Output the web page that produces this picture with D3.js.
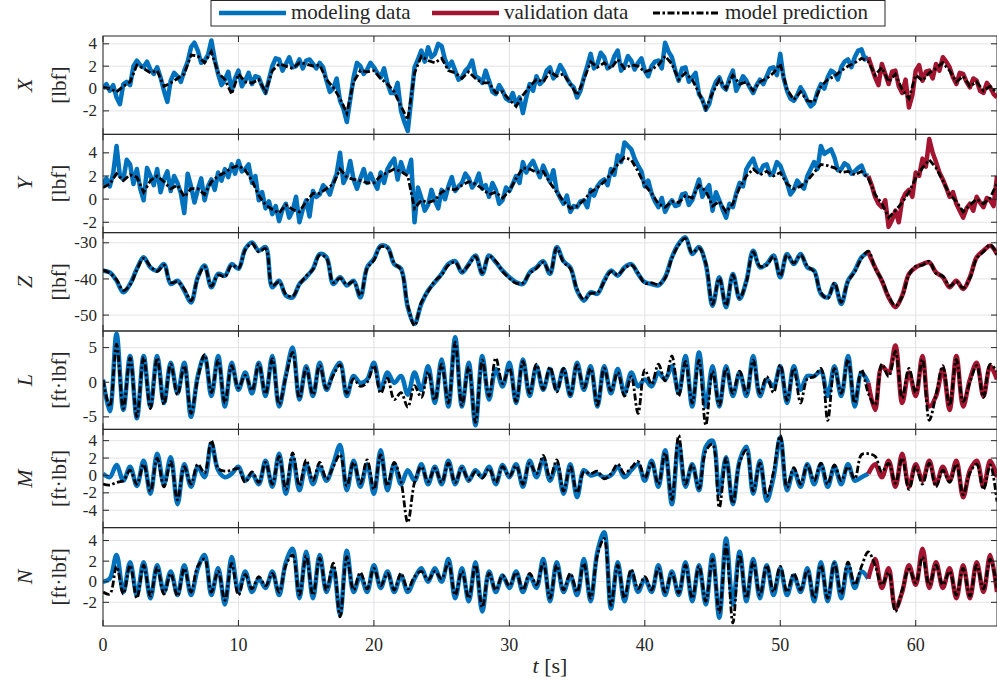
<html>
<script src='https://d3js.org/d3.v7.min.js'></script>
<style>
body {margin: 0; background: #fff;}
</style>
<body>
<svg id="chart" width=997 height=692></svg>
<script>
// every series spans 0..66 s at an even step; modeling data up to 56.5 s, validation after
const endTime = 66;
const splitTime = 56.5;
const timeTicks = [0, 10, 20, 30, 40, 50, 60];

// X and Y measurements are read every 0.25 s, the rest every 0.5 s
const xData = [0, 0.4, -0.2, 0.3, -0.8, -1.4, 0.4, 0.6, 0.3, 2.0, 2.5, 2.1, 1.9, 2.4, 1.7, 1.3, 1.9, 1.0, -0.2, -1.2,
  0.7, 1.4, 1.1, 0.6, 1.6, 2.4, 3.7, 4.1, 3.4, 2.3, 2.5, 3.0, 4.3, 2.6, 1.3, 0.3, 0.8, 1.5, -0.2, 0.9,
  1.6, 0.2, 0.7, 1.4, 0.4, 1.1, 1.0, 0.2, -0.4, 0.8, 2.0, 2.7, 2.6, 1.6, 2.2, 2.8, 1.9, 2.0, 2.6, 1.8,
  2.5, 2.6, 2.2, 1.8, 2.3, 1.9, 0.7, -0.3, 0, 0.9, -1.1, -1.8, -3.0, -1.0, 1.0, 2.3, 2.0, 1.3, 1.7, 2.3,
  1.9, 1.4, 1.0, 1.8, 0.5, -0.4, -0.4, 0.5, -2.0, -3.0, -3.8, -1.0, 1.9, 2.6, 3.4, 2.4, 3.7, 2.8, 3.1, 4.0,
  3.8, 2.6, 1.9, 2.4, 1.6, 0.8, 1.0, 1.6, 1.9, 2.5, 1.1, 0.9, 0.5, 1.6, 0.7, -0.3, -0.5, 0.3, -0.2, -0.9,
  -1.1, -0.4, -1.4, -0.8, -2.2, -0.8, 0.4, -0.2, 1.1, 0.4, 0.7, 1.6, 1.9, 0.9, 1.3, 2.1, 1.6, 0.9, 0.4, 0.1,
  -0.8, -0.2, 1.0, 2.0, 3.1, 1.8, 2.2, 3.2, 2.8, 1.8, 2.0, 2.9, 3.4, 1.6, 2.0, 2.9, 2.5, 1.7, 2.3, 2.7,
  1.6, 1.1, 2.0, 2.4, 2.5, 1.8, 4.1, 3.3, 2.8, 1.6, 0.7, 1.8, 1.9, 0.6, 1.0, 1.4, -0.5, -1.0, -1.9, -1.4,
  -0.2, 0.6, 1.0, 0.2, -0.1, 0.9, 1.6, -0.2, 0.4, 1.1, 0.7, 0.1, -0.4, 0.3, 0.8, 0.4, 1.1, 1.8, 1.9, 1.2,
  3.1, 0.9, -0.2, -0.9, -1.1, -0.6, 0.1, -0.4, -1.1, -1.6, -1.3, -0.3, 0.4, 0.0, 1.0, 1.6, 1.4, 0.8, 1.9, 2.4,
  2.6, 1.9, 2.8, 3.4, 3.5, 2.6, 2.8,
  1.9, 1.0, 0.3, 2.2, 1.3, 0.4, 1.5, 1.6, 0.2, -0.4, 0.8, -1.7, -0.6, 1.6, 2.1, 0.7, 1.5, 1.6, 0.9, 2.2,
  1.6, 2.8, 2.4, 1.9, 1.0, 0.4, 1.4, 1.3, 0.6, 0.1, 0.9, 0.7, -0.2, -0.4, 0.5, 0.1, -0.5, -0.8];
const xPred = [0.1, 0.0, -0.3, 0.2, 0.6, 2.1, 1.8, 1.4, 1.6, 0.2,
  0.5, 0.9, 1.3, 3.0, 2.9, 2.3, 3.3, 1.4, 0.8, -0.5,
  1.3, 0.6, 0.5, 0.8, -0.3, 1.6, 2.2, 2.0, 1.8, 2.3,
  2.2, 2.0, 2.1, 0.8, 0.1, -0.9, -2.2, 0.6, 1.6, 1.5,
  1.6, 0.9, 0.4, -0.3, -1.6, -2.8, 1.4, 2.9, 2.5, 2.3,
  2.7, 1.6, 1.4, 0.9, 1.5, 0.9, 0.5, 0.5, -0.4, -0.3,
  -1.0, -1.6, -0.6, 0.2, 0.8, 0.6, 1.5, 1.1, 1.3, 0.4,
  -0.6, 0.8, 2.4, 1.9, 2.3, 1.8, 2.6, 1.8, 2.1, 2.0,
  1.5, 1.7, 2.1, 2.9, 2.2, 0.8, 1.4, 0.8, -0.4, -1.8,
  -0.4, 0.8, 0.0, 1.2, 0.4, 0.6, -0.2, 0.6, 0.9, 1.4,
  2.2, -0.1, -1.0, -0.3, -1.1, -1.2, 0.2, 0.8, 1.1, 1.6,
  2.0, 2.3, 2.7, 2.4,
  1.2, 1.9, 0.6, 1.3, -0.1, -0.9, 1.2, 0.7, 1.4, 1.8,
  2.3, 1.6, 0.6, 1.1, 0.2, 0.6, -0.2, 0.2, -0.4];

const yData = [1.2, 1.8, 1.1, 2.2, 4.6, 2.0, 1.7, 3.4, 3.0, 1.3, 2.6, 0.9, -0.1, 2.7, 2.0, 1.2, 2.6, 0.6, 1.7, 2.4,
  0.7, 2.0, 1.4, 0.5, -1.2, 2.2, 1.1, -0.3, 0.8, 1.8, -0.1, 1.1, 1.7, 0.8, 2.3, 1.6, 2.6, 1.9, 3.0, 2.2,
  3.3, 2.4, 2.6, 3.0, 1.4, 2.0, -0.1, 0.6, -0.8, -0.2, -1.3, -0.6, -1.9, -0.9, -0.4, -1.6, -1.0, 0.2, -2.0, -0.9,
  -0.1, -1.5, 0.7, 0.2, 0.4, 1.2, 0.9, 0.4, 1.4, 2.2, 4.0, 1.4, 2.0, 3.3, 1.7, 0.9, 1.8, 2.6, 1.4, 2.2,
  1.5, 0.9, 2.3, 1.4, 2.6, 3.1, 3.5, 1.7, 3.2, 2.3, 2.3, 3.4, -2.0, 1.0, 0.1, -1.0, -0.5, 0.8, -0.1, -0.8,
  0.8, 0.0, 1.1, 1.9, 0.7, 1.1, 1.4, 2.2, 1.8, 1.0, 1.4, 2.2, 0.9, 1.2, 0.2, 1.4, 0.8, -0.4, -0.1, 1.0,
  0.7, 1.3, 2.0, 1.4, 3.2, 2.3, 2.9, 3.3, 2.6, 1.9, 2.9, 2.2, 1.5, 2.5, 0.7, 0.1, -0.4, 0.3, -1.1, -0.6,
  -0.7, -0.2, -0.1, -0.7, 0.8, 0.3, 1.1, 1.5, 1.7, 1.2, 2.6, 2.1, 3.8, 3.2, 4.9, 4.6, 4.3, 3.5, 2.9, 2.4,
  1.1, 1.6, 0.5, -0.2, -0.7, 0.1, -1.1, -0.5, -0.1, -0.6, -0.5, 0.4, 0.5, -0.5, -0.1, 0.8, 1.7, 0.2, 0.8, 1.2,
  -1.0, 0.6, -0.1, -0.9, -1.6, -0.4, -0.7, 0.5, 1.4, 1.1, 2.6, 3.1, 3.5, 2.6, 2.3, 2.9, 3.0, 2.1, 2.3, 3.2,
  2.9, 2.1, 1.4, 0.4, 0.8, 1.6, 1.2, 0.9, 2.0, 2.6, 3.2, 2.6, 4.6, 3.9, 4.1, 4.3, 3.6, 2.5, 2.6, 3.1,
  2.9, 2.2, 2.4, 2.7, 2.9, 2.1, 2.0,
  1.2, 0.2, -0.4, -0.7, -0.1, -2.4, -1.8, -1.0, -2.0, -0.1, 0.5, 0.8, 0.2, 2.3, 2.0, 3.5, 2.8, 5.2, 4.0, 3.2,
  2.3, 1.7, 1.0, 0.2, 0.6, -0.4, -1.0, -1.6, -0.8, -0.4, -1.0, 0.2, -0.3, -0.7, 0.1, -0.1, -0.6, 2.0];
const yPred = [1.0, 1.3, 2.2, 1.6, 2.1, 1.9, 0.6, 1.6, 2.0, 1.5,
  0.9, 1.2, 0.2, 0.9, 0.9, 0.4, 1.5, 2.0, 2.3, 2.7,
  2.9, 2.5, 1.6, 0.3, -0.5, -0.9, -1.2, -0.5, -0.9, -1.1,
  -0.2, 0.5, 0.5, 0.9, 1.3, 2.6, 1.9, 1.7, 1.6, 1.4,
  1.4, 2.0, 2.3, 2.6, 2.4, 2.0, -0.8, -0.1, -0.3, -0.1,
  0.6, 0.9, 0.8, 1.2, 1.5, 1.3, 0.9, 0.4, 0.6, 0.1,
  0.7, 1.8, 2.7, 2.6, 2.3, 2.4, 1.4, 0.6, -0.2, -0.8,
  -0.6, -0.1, 0.6, 1.0, 1.5, 2.2, 3.0, 3.6, 3.4, 2.4,
  1.2, 0.5, -0.4, -0.7, -0.2, -0.3, 0.3, 0.1, 1.2, 0.7,
  -0.6, -0.2, -1.1, -0.4, 1.0, 2.0, 2.6, 2.1, 2.4, 2.0,
  2.3, 1.3, 0.9, 1.1, 1.6, 2.3, 3.0, 2.9, 2.7, 2.3,
  2.4, 2.1, 2.4, 1.8,
  0.4, -0.4, -1.6, -1.0, -0.3, 0.6, 1.8, 2.7, 3.4, 2.7,
  1.6, 0.4, -0.2, -1.1, -0.5, 0.0, -0.4, 0.1, 1.4];

const zData = [-37.7, -38.2, -40.5, -43.7, -41.4, -37.2, -34.0, -36.8, -37.7, -35.9,
  -41.4, -40.5, -43.2, -46.5, -39.5, -36.3, -42.3, -38.6, -39.1, -35.9,
  -37.2, -31.7, -29.9, -32.2, -31.2, -42.3, -40.5, -44.6, -45.1, -41.4,
  -39.5, -37.2, -33.1, -34.0, -41.4, -39.5, -41.8, -40.5, -45.1, -36.8,
  -34.5, -30.8, -31.2, -35.9, -37.2, -47.8, -52.4, -46.9, -43.2, -40.9,
  -38.6, -35.9, -35.1, -38.2, -35.9, -33.5, -38.6, -33.5, -35.4, -37.7,
  -39.5, -40.9, -41.4, -38.2, -36.8, -35.1, -38.6, -31.2, -35.1, -36.8,
  -43.2, -46.0, -43.7, -44.1, -40.5, -37.7, -39.1, -36.8, -35.9, -38.6,
  -40.9, -41.4, -41.8, -39.5, -34.0, -30.3, -28.5, -33.1, -31.2, -35.9,
  -47.4, -39.5, -47.8, -38.6, -45.5, -40.5, -32.2, -36.8, -35.9, -33.5,
  -39.5, -33.1, -35.9, -33.1, -36.8, -37.7, -44.1, -45.1, -41.4, -46.9,
  -40.5, -37.7, -34.0, -32.6,
  -36.8, -40.5, -45.1, -47.8, -44.6, -38.6, -36.8, -35.9, -35.4, -38.2,
  -39.5, -42.3, -40.5, -42.8, -39.5, -34.0, -32.2, -30.8, -33.1];
const zPred = [-37.5, -38.4, -40.2, -43.2, -41.6, -37.5, -34.3, -36.5, -37.9, -36.2,
  -41.0, -40.8, -42.8, -46.0, -39.8, -36.6, -42.0, -38.9, -39.4, -36.2,
  -37.0, -32.0, -30.2, -32.5, -31.6, -41.8, -40.8, -44.2, -44.8, -41.6,
  -39.2, -37.4, -33.4, -34.3, -41.0, -39.8, -41.5, -40.8, -44.6, -37.1,
  -34.8, -31.1, -31.5, -35.6, -37.5, -47.3, -52.9, -46.5, -43.5, -40.6,
  -38.9, -36.2, -35.4, -37.9, -36.2, -33.8, -38.3, -33.8, -35.1, -37.9,
  -39.8, -41.2, -41.1, -38.5, -37.1, -35.4, -38.3, -31.5, -35.4, -37.1,
  -42.8, -45.6, -44.0, -43.8, -40.8, -38.0, -38.8, -37.1, -36.2, -38.3,
  -41.2, -41.1, -41.5, -39.8, -34.3, -30.6, -28.8, -32.8, -31.5, -35.6,
  -47.0, -39.8, -47.4, -38.9, -45.2, -40.8, -32.5, -36.5, -36.2, -33.8,
  -39.2, -33.4, -35.6, -33.4, -36.5, -38.0, -43.8, -45.4, -41.1, -46.5,
  -40.8, -38.0, -34.3, -32.3,
  -37.1, -40.2, -44.8, -47.4, -44.9, -38.9, -36.5, -36.2, -35.1, -38.5,
  -39.2, -42.0, -40.8, -42.5, -39.8, -34.3, -32.5, -30.5, -33.4];

const lData = [0.4, -4.2, 7.0, -4.0, 3.8, -5.2, 3.8, -3.5, 3.8, -3.0,
  2.8, -1.6, 2.8, -5.0, 0.9, 3.8, -2.0, 3.8, -3.5, 2.8,
  -1.1, 1.4, -1.6, 2.8, -2.0, 3.8, -3.5, 1.0, 5.0, -2.5,
  2.3, -2.0, 2.8, -1.1, 1.4, 2.8, -2.0, 0.9, -0.1, 0.4,
  2.8, -1.1, 1.4, -0.1, 0.9, -1.8, 1.4, -1.1, 2.3, -3.0,
  3.3, -3.5, 6.5, -3.5, 2.8, -6.2, 3.8, -2.5, 1.9, -0.6,
  2.8, -3.0, 3.3, -2.0, 2.3, -1.1, 1.9, -1.1, 1.9, -2.0,
  2.8, -1.1, 2.3, -3.5, 2.3, -1.6, 1.9, -1.6, 1.4, -0.6,
  0.4, -0.6, 1.4, 0.4, 2.3, -1.6, 3.8, -3.5, 4.3, -3.5,
  2.3, -3.5, 2.3, -2.0, 1.4, -2.0, 3.8, -2.0, 0.4, -0.6,
  2.3, -3.0, 2.3, -1.1, 0.9, 0.9, 1.6, -2.0, 2.3, -2.0,
  3.8, -3.5, 1.4, -0.1,
  -4.0, 2.3, 1.4, 5.3, -3.0, 1.4, -2.0, 3.8, -3.5, -2.0,
  1.9, -4.0, 3.8, -3.5, 0.4, 2.8, -2.0, 2.3, 0.4];
const lPred = [0.3, -3.5, 5.5, -3.8, 3.5, -5.0, 3.6, -3.8, 3.5, -3.2,
  2.6, -1.8, 2.4, -4.5, 0.6, 4.0, -1.5, 3.2, -3.0, 2.4,
  -0.8, 1.0, -1.2, 2.6, -1.7, 3.4, -3.2, 0.8, 4.3, -2.3,
  2.0, -1.8, 2.4, -0.9, 1.0, 2.5, -1.6, 0.5, -0.6, 0.0,
  2.4, -1.6, 0.6, -2.5, -1.5, -3.6, -0.5, -2.2, 1.5, -2.6,
  2.6, -3.0, 5.8, -3.3, 2.2, -5.8, 3.2, -2.0, 3.5, -0.2,
  2.0, -2.8, 3.0, -1.6, 2.6, -1.0, 2.2, -1.4, 2.0, -1.8,
  2.5, -0.8, 2.0, -3.3, 2.0, -1.2, 1.4, -2.0, 0.8, -4.5,
  1.8, -0.3, 2.6, 0.2, 3.8, -2.0, 3.0, -3.0, 3.2, -6.2,
  1.6, -3.3, 2.0, -1.6, 1.6, -1.6, 3.2, -1.6, 0.8, -1.5,
  2.5, -2.6, 2.0, -3.0, 0.5, 0.8, 2.0, -5.5, 2.0, -1.6,
  3.3, -3.0, 1.8, -1.6,
  -3.3, 2.6, 0.8, 4.5, -2.3, 2.0, -1.5, 3.3, -5.5, -1.8,
  2.4, -3.4, 3.3, -2.8, 0.0, 2.4, -2.2, 2.6, 1.5];

const mData = [0.2, -0.2, 1.2, -0.6, 1.0, -1.2, 1.7, -2.1, 2.5, -1.0,
  2.1, -3.3, 1.3, -1.3, 1.0, -0.2, 3.7, 0.6, -0.2, 0.2,
  1.0, -0.6, 0.2, -1.0, 1.7, -1.3, 2.5, -2.1, 2.1, -1.7,
  1.3, -1.0, 1.0, -0.6, 1.3, 3.5, -1.7, 1.7, -1.3, 1.3,
  -2.1, 2.9, -1.7, 1.3, -1.0, 0.6, -0.6, 1.3, -1.0, 1.0,
  -1.0, 1.7, -1.0, 1.0, -0.6, 0.6, -0.2, 1.0, -1.0, 1.2,
  -0.2, 1.3, -1.3, 1.7, -0.2, 1.9, -0.6, 1.3, -2.1, 1.3,
  -2.5, 0.6, 0.0, 0.2, -0.2, 0.0, 1.0, -0.2, 0.6, 1.3,
  -0.6, 1.7, -1.3, 2.9, -3.3, 3.8, -1.3, 1.3, -1.7, 3.3,
  4.0, -2.1, 2.1, -3.3, 1.7, 3.3, -2.1, 1.7, -2.9, -0.2,
  4.4, -1.7, 0.6, -1.3, 1.3, -1.0, 1.3, -1.3, 1.0, -1.0,
  1.3, -0.6, -0.2, 0.2,
  1.3, -0.2, 1.7, -1.3, 2.5, -1.3, 1.3, -0.6, 1.7, -1.0,
  1.0, -0.6, 1.7, -2.5, 0.6, 1.7, -1.3, 1.7, -0.2];
const mPred = [-1.0, -1.1, -0.8, -0.6, 0.6, -1.0, 1.3, -1.8, 2.0, -1.3,
  1.6, -2.8, 1.0, -1.0, 1.3, 0.3, 4.0, 0.8, 0.5, 0.6,
  0.8, -0.8, 0.4, -0.8, 1.5, -1.0, 2.2, -1.6, 2.6, -1.2,
  1.8, -0.6, 1.5, -0.4, 1.0, 2.4, -1.2, 1.5, -0.9, 1.8,
  -1.6, 2.4, -1.2, 1.5, -0.7, -5.4, -0.8, 1.0, -0.7, 0.8,
  -0.8, 1.4, -0.8, 0.8, -0.5, 0.4, -0.3, 0.8, -0.8, 1.0,
  -0.1, 1.1, -1.0, 1.4, 0.2, 2.3, -0.3, 1.8, -1.8, 1.0,
  -2.0, 0.4, 0.2, 0.5, -0.4, 0.2, 1.3, 0.2, 0.9, 1.6,
  -0.3, 1.4, -1.0, 2.6, -2.8, 4.6, -1.0, 1.2, -1.5, 2.8,
  3.6, -3.7, 2.0, -3.2, 1.5, 2.9, -1.8, 1.4, -2.4, 0.4,
  4.6, -1.4, 0.9, -1.0, 1.2, -0.6, 1.4, -1.0, 1.2, -0.6,
  1.0, -0.4, 2.4, 2.5,
  2.2, 0.4, 1.4, -0.9, 2.0, -1.6, 1.0, -1.0, 1.4, -1.3,
  0.6, -0.8, 1.3, -2.2, 0.3, 1.3, -1.6, 1.2, -3.0];

const nData = [0.0, 0.3, 2.6, -1.0, 1.9, -1.3, 1.9, -1.6, 1.6, -1.0,
  1.0, -1.3, 1.6, -1.3, 1.3, 2.6, -1.3, 1.3, -2.2, 2.4,
  -1.0, 1.0, -1.0, 0.3, -0.6, 1.0, -1.3, 1.9, 3.2, -1.6,
  2.9, -1.6, 2.6, -1.0, 1.3, -3.2, 3.0, -1.0, 0.6, -1.0,
  1.6, -0.6, 1.0, -1.0, 0.6, -1.0, 0.3, 1.3, 0.0, 1.3,
  0.0, 2.2, -1.6, 1.3, -1.9, 1.9, -2.9, 1.0, -1.0, 0.6,
  -0.6, 1.0, -1.0, 0.6, -0.6, 2.2, -1.9, 1.9, -1.0, 0.6,
  -1.3, 2.2, -1.9, 2.9, 4.8, -2.6, 1.9, -1.9, 1.0, -1.0,
  0.3, -1.0, 1.6, -1.3, 1.0, -1.3, 1.9, -1.9, 1.6, -2.2,
  2.6, -3.5, 4.2, -2.2, 2.9, -1.9, 2.2, -1.6, 1.6, -1.3,
  1.3, -1.3, 0.6, -1.0, 1.3, -1.9, 1.9, -1.9, 1.9, -1.6,
  1.6, -0.6, 1.0, 0.3,
  2.2, -0.6, 1.3, -2.6, -1.0, 1.6, -0.3, 3.2, -0.6, 1.9,
  -0.6, 1.3, -1.6, 1.6, -1.6, 1.9, -1.0, 2.6, -1.0];
const nPred = [-1.0, -1.2, 1.5, -1.2, 1.6, -1.6, 1.6, -1.4, 1.4, -1.2,
  0.8, -1.4, 1.3, -1.0, 1.5, 2.2, -1.0, 1.0, -1.8, 1.8,
  -1.3, 0.7, -0.7, 0.5, -0.4, 0.8, -1.0, 1.6, 2.6, -1.3,
  2.5, -1.3, 2.3, -0.8, 1.8, -3.4, 2.4, -0.8, 0.9, -0.7,
  1.3, -0.4, 0.8, -0.8, 0.8, -0.7, 0.5, 1.0, 0.2, 1.0,
  0.3, 1.8, -1.3, 1.0, -1.6, 1.6, -2.5, 0.8, -0.8, 0.6,
  -0.4, 0.9, -0.8, 0.8, -0.3, 1.8, -1.6, 1.6, -0.8, 0.8,
  -1.0, 1.8, -1.6, 2.6, 4.2, -2.3, 1.6, -1.6, 1.2, -0.7,
  0.5, -0.8, 1.3, -1.0, 0.8, -1.1, 1.6, -1.6, 1.5, -1.9,
  2.2, -3.0, 3.6, -4.0, 2.6, -1.6, 1.9, -1.3, 1.6, -1.0,
  1.5, -1.0, 0.8, -0.8, 1.1, -1.6, 1.6, -1.6, 1.8, -1.2,
  1.9, -0.3, 1.5, 2.9,
  1.6, -0.3, 0.9, -2.9, -0.8, 1.2, -0.1, 2.4, -0.3, 1.6,
  -0.3, 1.0, -1.3, 1.3, -1.4, 1.6, -0.7, 2.2, -0.6];

const panelNames = ["X", "Y", "Z", "L", "M", "N"];
const panelUnits = ["[lbf]", "[lbf]", "[lbf]", "[ft\u00b7lbf]", "[ft\u00b7lbf]", "[ft\u00b7lbf]"];
const panelTicks = [[-2, 0, 2, 4], [-2, 0, 2, 4], [-50, -40, -30], [-5, 0, 5], [-4, -2, 0, 2, 4], [-2, 0, 2, 4]];
const panelRanges = [[-4.1, 4.7], [-2.9, 5.6], [-54.4, -27.2], [-6.8, 7.4], [-6, 5.3], [-4.3, 5.25]];
const measured = [xData, yData, zData, lData, mData, nData];
const predicted = [xPred, yPred, zPred, lPred, mPred, nPred];

const blue = "#0072bd", red = "#a2142f", axisColor = "#262626", gridColor = "#e3e3e3";
const plotLeft = 103, plotRight = 997, plotTop = 36, plotBottom = 626;
const panelH = (plotBottom - plotTop) / 6;
const serif = "'Liberation Serif', 'DejaVu Serif', serif";
const predDash = "7,2.5,2.5,2.5";

const svg = d3.select("#chart");
const xScale = d3.scaleLinear().domain([0, endTime]).range([plotLeft, plotRight]);

function toPoints(arr) {
  const step = endTime / (arr.length - 1);
  return arr.map((v, i) => ({t: i * step, v: v}));
}
function addText(sel, size) {
  return sel.append("text").style("font-family", serif).style("font-size", size + "px").style("fill", axisColor);
}

panelNames.forEach(function(name, i) {
  const y0 = plotTop + i * panelH, y1 = y0 + panelH;
  const yScale = d3.scaleLinear().domain(panelRanges[i]).range([y1, y0]);
  const g = svg.append("g");

  g.append("clipPath").attr("id", "clip" + i)
    .append("rect").attr("x", plotLeft).attr("y", y0).attr("width", plotRight - plotLeft).attr("height", panelH);

  // grid
  g.selectAll(".hgrid").data(panelTicks[i]).enter().append("line")
    .attr("x1", plotLeft).attr("x2", plotRight)
    .attr("y1", d => yScale(d)).attr("y2", d => yScale(d))
    .style("stroke", gridColor).style("stroke-width", 1);
  g.selectAll(".vgrid").data(timeTicks).enter().append("line")
    .attr("x1", d => xScale(d)).attr("x2", d => xScale(d))
    .attr("y1", y0).attr("y2", y1)
    .style("stroke", gridColor).style("stroke-width", 1);

  const pts = toPoints(measured[i]);
  const curve = i < 2 ? d3.curveLinear : d3.curveCatmullRom.alpha(0.5);
  const line = d3.line().x(d => xScale(d.t)).y(d => yScale(d.v)).curve(curve);
  const plot = g.append("g").attr("clip-path", "url(#clip" + i + ")");

  plot.append("path").datum(pts.filter(d => d.t <= splitTime))
    .attr("d", line).style("fill", "none").style("stroke", blue)
    .style("stroke-width", 4.5).style("stroke-linejoin", "round");
  plot.append("path").datum(pts.filter(d => d.t >= splitTime))
    .attr("d", line).style("fill", "none").style("stroke", red)
    .style("stroke-width", 4.5).style("stroke-linejoin", "round");
  plot.append("path").datum(toPoints(predicted[i]))
    .attr("d", line).style("fill", "none").style("stroke", "#000")
    .style("stroke-width", 2.8).style("stroke-dasharray", predDash);

  // box and inner ticks
  g.append("rect").attr("x", plotLeft).attr("y", y0).attr("width", plotRight - plotLeft).attr("height", panelH)
    .style("fill", "none").style("stroke", axisColor).style("stroke-width", 1);
  panelTicks[i].forEach(function(t) {
    const yy = yScale(t);
    g.append("line").attr("x1", plotLeft).attr("x2", plotLeft + 6).attr("y1", yy).attr("y2", yy).style("stroke", axisColor);
    g.append("line").attr("x1", plotRight - 6).attr("x2", plotRight).attr("y1", yy).attr("y2", yy).style("stroke", axisColor);
    addText(g, 17).attr("x", plotLeft - 6).attr("y", yy).attr("dy", "0.33em")
      .attr("text-anchor", "end").text(t);
  });
  timeTicks.forEach(function(t) {
    const xx = xScale(t);
    g.append("line").attr("x1", xx).attr("x2", xx).attr("y1", y0).attr("y2", y0 + 6).style("stroke", axisColor);
    g.append("line").attr("x1", xx).attr("x2", xx).attr("y1", y1 - 6).attr("y2", y1).style("stroke", axisColor);
  });

  // y label
  const yc = (y0 + y1) / 2;
  addText(g, 22).attr("transform", "translate(32," + yc + ") rotate(-90)")
    .attr("text-anchor", "middle").style("font-style", "italic").text(name);
  addText(g, 21).attr("transform", "translate(66," + yc + ") rotate(-90)")
    .attr("text-anchor", "middle").text(panelUnits[i]);
});

// x tick labels and label
timeTicks.forEach(function(t) {
  addText(svg, 18).attr("x", xScale(t)).attr("y", plotBottom + 25).attr("text-anchor", "middle").text(t);
});
const xl = addText(svg, 22).attr("x", 550).attr("y", plotBottom + 47).attr("text-anchor", "middle");
xl.append("tspan").style("font-style", "italic").text("t");
xl.append("tspan").text(" [s]");

// legend
const legend = svg.append("g");
legend.append("rect").attr("x", 211).attr("y", 0.5).attr("width", 674).attr("height", 25.5)
  .style("fill", "#fff").style("stroke", axisColor).style("stroke-width", 1);
const entries = [
  {label: "modeling data", color: blue, x: 219, dash: null, w: 4.5},
  {label: "validation data", color: red, x: 432, dash: null, w: 4.5},
  {label: "model prediction", color: "#000", x: 653, dash: predDash, w: 2.8}
];
entries.forEach(function(e) {
  legend.append("line").attr("x1", e.x).attr("x2", e.x + 67).attr("y1", 13).attr("y2", 13)
    .style("stroke", e.color).style("stroke-width", e.w).style("stroke-dasharray", e.dash);
  addText(legend, 21).attr("x", e.x + 72).attr("y", 19).text(e.label);
});
</script>
</body>
</html>
